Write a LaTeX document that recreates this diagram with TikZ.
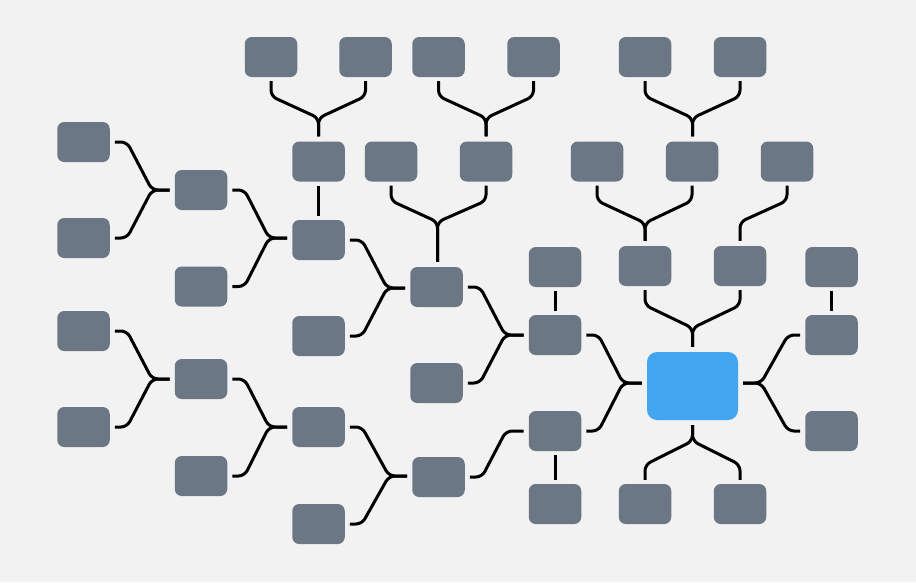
\documentclass[tikz,border=0pt]{standalone}
\usetikzlibrary{calc}
\definecolor{bg}{HTML}{F2F2F2}
\definecolor{boxgray}{HTML}{6B7785}
\definecolor{mainblue}{HTML}{42A5F0}
\tikzset{
  box/.style={rectangle, rounded corners=7pt, minimum width=52.5pt, minimum height=40pt, inner sep=0pt, fill=boxgray, draw=none},
  mainbox/.style={rectangle, rounded corners=10pt, minimum width=91pt, minimum height=68pt, inner sep=0pt, fill=mainblue, draw=none},
  link/.style={line width=3pt, rounded corners=6pt, black}
}
% child left of parent
\newcommand\brR[3]{\draw[link] ([xshift=5pt]#1.east) -- ++(12,0) -- (#2) -- ($(#2 -| #3.west)+(-5,0)$);}
% child right of parent
\newcommand\brL[3]{\draw[link] ([xshift=-5pt]#1.west) -- ++(-12,0) -- (#2) -- ($(#2 -| #3.east)+(5,0)$);}
% child above parent
\newcommand\brD[3]{\draw[link] ([yshift=-4pt]#1.south) -- ++(0,15) -- (#2) -- ($(#2 |- #3.north)+(0,-5)$);}
% child below parent
\newcommand\brU[3]{\draw[link] ([yshift=4pt]#1.north) -- ++(0,-15) -- (#2) -- ($(#2 |- #3.south)+(0,5)$);}
\begin{document}
\begin{tikzpicture}[x=1pt,y=-1pt]
\fill[bg] (0,0) rectangle (916,582);
\useasboundingbox (0,0) rectangle (916,582);
% top row
\node[box] (t1) at (271,57) {};
\node[box] (t2) at (365.5,57) {};
\node[box] (t3) at (438.5,57) {};
\node[box] (t4) at (533.5,57) {};
\node[box] (t5) at (645,57) {};
\node[box] (t6) at (740,57) {};
% second row
\node[box] (r1) at (318.5,161.5) {};
\node[box] (r2) at (391,161.5) {};
\node[box] (r3) at (486,161.5) {};
\node[box] (r4) at (597,161.5) {};
\node[box] (r5) at (692,161.5) {};
\node[box] (r6) at (787,161.5) {};
% left column
\node[box] (a1) at (83.5,142) {};
\node[box] (a2) at (83.5,238) {};
\node[box] (a3) at (83.5,331) {};
\node[box] (a4) at (83.5,427) {};
\node[box] (b1) at (201,190) {};
\node[box] (b2) at (201,286.5) {};
\node[box] (b3) at (201,379) {};
\node[box] (b4) at (201,476) {};
\node[box] (c1) at (318.5,240) {};
\node[box] (c2) at (318.5,336) {};
\node[box] (c3) at (318.5,427) {};
\node[box] (c4) at (318.5,524) {};
\node[box] (d1) at (436.5,287) {};
\node[box] (d2) at (436.5,383) {};
\node[box] (d3) at (438.5,477) {};
\node[box] (e1) at (555,267) {};
\node[box] (e2) at (555,335) {};
\node[box] (e3) at (555,431) {};
\node[box] (e4) at (555,504) {};
\node[box] (f1) at (645,266) {};
\node[box] (f2) at (740,266) {};
\node[box] (g0) at (831.5,267) {};
\node[box] (g1) at (831.5,335) {};
\node[box] (g2) at (831.5,431) {};
\node[box] (h1) at (645,504) {};
\node[box] (h2) at (740,504) {};
\node[mainbox] (m) at (692.5,386) {};
% junctions
\coordinate (j1) at (152,190);
\coordinate (j2) at (269,238);
\coordinate (j3) at (387,288);
\coordinate (j4) at (505,335);
\coordinate (j5) at (623,383);
\coordinate (j6) at (506,431);
\coordinate (j7) at (389,476);
\coordinate (j8) at (269,427);
\coordinate (j9) at (152,379);
\coordinate (j10) at (761,383);
\coordinate (k1) at (318.5,118);
\coordinate (k2) at (486,118);
\coordinate (k3) at (437.5,222);
\coordinate (k4) at (692.5,118);
\coordinate (k5) at (645,223);
\coordinate (k6) at (740,222);
\coordinate (k7) at (692.5,328);
\coordinate (k8) at (692.5,441);
% horizontal forks
\brR{a1}{j1}{b1} \brR{a2}{j1}{b1}
\brR{b1}{j2}{c1} \brR{b2}{j2}{c1}
\brR{c1}{j3}{d1} \brR{c2}{j3}{d1}
\brR{d1}{j4}{e2} \brR{d2}{j4}{e2}
\brR{e2}{j5}{m} \brR{e3}{j5}{m}
\brR{d3}{j6}{e3}
\brR{c3}{j7}{d3} \brR{c4}{j7}{d3}
\brR{b3}{j8}{c3} \brR{b4}{j8}{c3}
\brR{a3}{j9}{b3} \brR{a4}{j9}{b3}
\brL{g1}{j10}{m} \brL{g2}{j10}{m}
% vertical forks
\brD{t1}{k1}{r1} \brD{t2}{k1}{r1}
\brD{t3}{k2}{r3} \brD{t4}{k2}{r3}
\brD{r2}{k3}{d1} \brD{r3}{k3}{d1}
\brD{t5}{k4}{r5} \brD{t6}{k4}{r5}
\brD{r4}{k5}{f1} \brD{r5}{k5}{f1}
\brD{r6}{k6}{f2}
\brD{f1}{k7}{m} \brD{f2}{k7}{m}
\brU{h1}{k8}{m} \brU{h2}{k8}{m}
% straight links
\draw[link] ([yshift=-4pt]r1.south) -- ([yshift=4pt]c1.north);
\draw[link] ([yshift=-4pt]e1.south) -- ([yshift=4pt]e2.north);
\draw[link] ([yshift=-4pt]g0.south) -- ([yshift=4pt]g1.north);
\draw[link] ([yshift=-4pt]e3.south) -- ([yshift=4pt]e4.north);
\end{tikzpicture}
\end{document}
